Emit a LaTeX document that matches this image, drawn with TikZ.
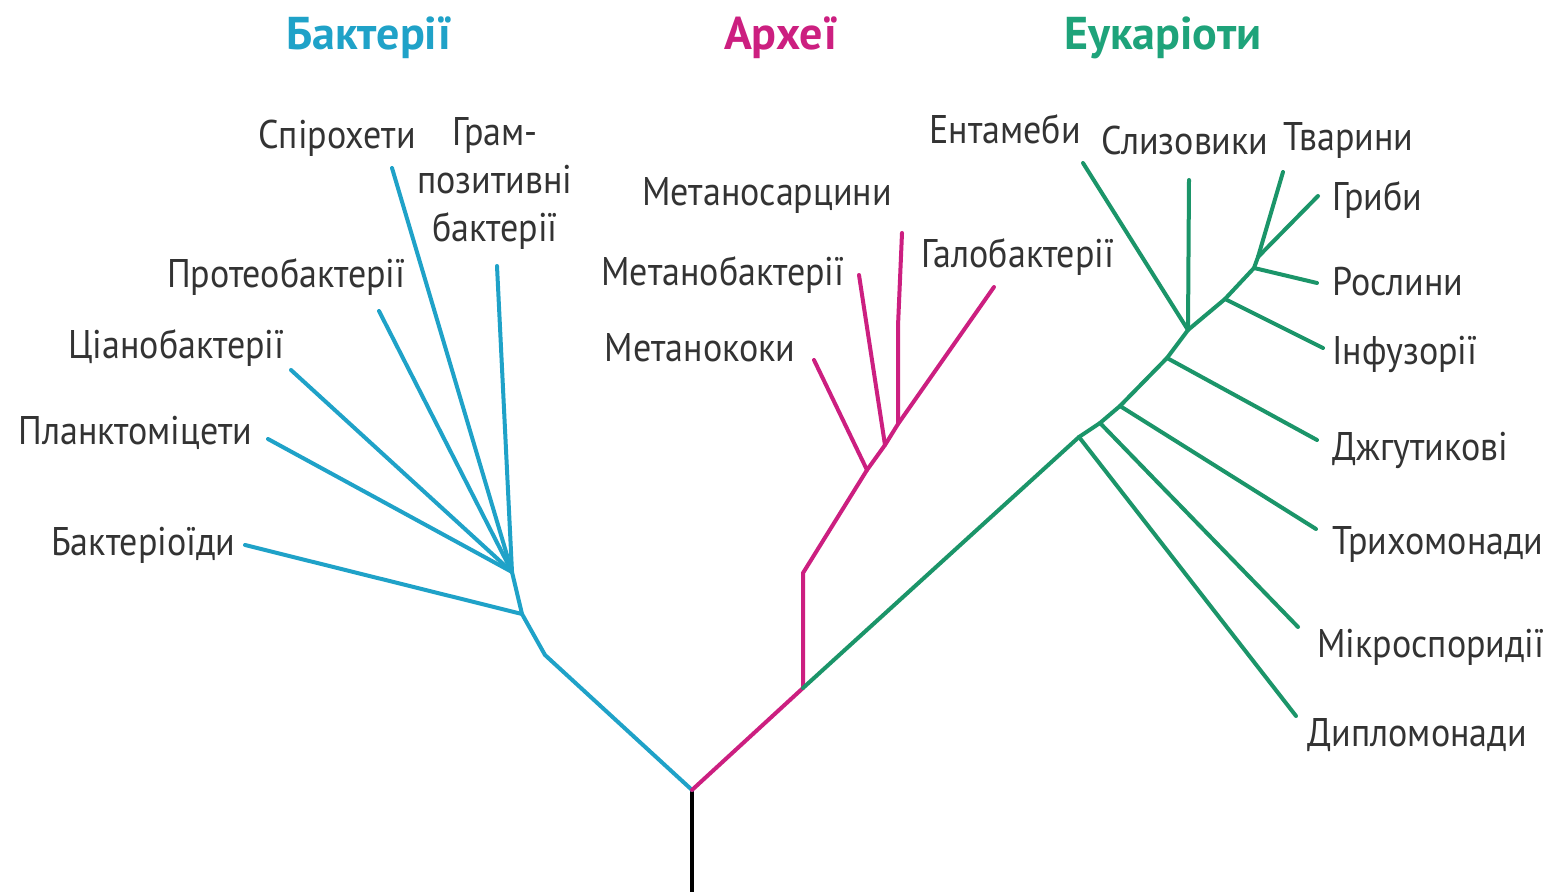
\documentclass[tikz,border=0pt]{standalone}
\usepackage{fontspec}
\setmainfont[FakeStretch=0.9]{PT Sans}
\newfontfamily\ttlfont{PT Sans}
\definecolor{bact}{HTML}{1FA2C8}
\definecolor{arch}{HTML}{CC1F80}
\definecolor{euk}{HTML}{1B9569}
\definecolor{eukt}{HTML}{1EA37A}
\definecolor{txt}{HTML}{333333}
\begin{document}
\begin{tikzpicture}[x=0.5pt,y=-0.5pt,
  lbl/.style={font=\fontsize{20}{24}\selectfont, text=txt, inner sep=0pt},
  ttl/.style={font=\ttlfont\fontsize{23}{26}\selectfont\bfseries, inner sep=0pt},
  br/.style={line width=2pt, line cap=round, line join=round}]
\useasboundingbox[fill=white] (0,0) rectangle (1564,892);

% ---------- junctions ----------
\coordinate (root) at (692,892);
\coordinate (R) at (692,790);
\coordinate (B0) at (545,655);
\coordinate (B1) at (522,614);
\coordinate (B2) at (512,572);
\coordinate (A0) at (803,688);
\coordinate (A1) at (803,573);
\coordinate (A2) at (867,470);
\coordinate (A3) at (885,445);
\coordinate (A4) at (898,424);
\coordinate (E1) at (1079,437);
\coordinate (E2) at (1100,423);
\coordinate (E3) at (1120,406);
\coordinate (E4) at (1167,358);
\coordinate (E5) at (1188,330);
\coordinate (E6) at (1225,299);
\coordinate (E7) at (1254,268);
\coordinate (E8) at (1258,257);

% ---------- branch ends ----------
\coordinate (bSpiro) at (392,168);
\coordinate (bGram) at (497,266);
\coordinate (bProt) at (379,311);
\coordinate (bCyan) at (291,370);
\coordinate (bPlan) at (268,439);
\coordinate (bBacd) at (245,545);
\coordinate (aKoki) at (814,360);
\coordinate (aBact) at (859,275);
\coordinate (aSarc) at (902,233);
\coordinate (aSarcM) at (898,326);
\coordinate (aHalo) at (994,287);
\coordinate (eDipl) at (1296,716);
\coordinate (eMicr) at (1298,627);
\coordinate (eTric) at (1316,529);
\coordinate (eFlag) at (1317,440);
\coordinate (eEnt) at (1083,163);
\coordinate (eSliz) at (1189,180);
\coordinate (eInf) at (1323,348);
\coordinate (eRosl) at (1317,283);
\coordinate (eTvar) at (1283,172);
\coordinate (eGrib) at (1318,196);

% ---------- root ----------
\draw[br, black, line cap=butt] (root) -- (R);

% ---------- bacteria ----------
\draw[br, bact] (R) -- (B0) -- (B1) -- (B2);
\draw[br, bact] (bBacd) -- (B1);
\foreach \e in {bSpiro,bGram,bProt,bCyan,bPlan}
  \draw[br, bact] (\e) -- (B2);

% ---------- archaea ----------
\draw[br, arch] (R) -- (A0) -- (A1) -- (A2) -- (A3) -- (A4) -- (aHalo);
\draw[br, arch] (aKoki) -- (A2);
\draw[br, arch] (aBact) -- (A3);
\draw[br, arch] (aSarc) -- (aSarcM) -- (A4);

% ---------- eukaryotes ----------
\draw[br, euk] (A0) -- (E1) -- (E2) -- (E3) -- (E4) -- (E5) -- (E6) -- (E7) -- (E8);
\draw[br, euk] (eDipl) -- (E1);
\draw[br, euk] (eMicr) -- (E2);
\draw[br, euk] (eTric) -- (E3);
\draw[br, euk] (eFlag) -- (E4);
\draw[br, euk] (eEnt) -- (E5);
\draw[br, euk] (eSliz) -- (E5);
\draw[br, euk] (eInf) -- (E6);
\draw[br, euk] (eRosl) -- (E7);
\draw[br, euk] (eTvar) -- (E8);
\draw[br, euk] (eGrib) -- (E8);

% ---------- titles ----------
\node[ttl, text=bact, anchor=base] (tBact) at (369,50) {Бактерії};
\node[ttl, text=arch, anchor=base] (tArch) at (781,50) {Археї};
\node[ttl, text=eukt, anchor=base] (tEuk) at (1163,50) {Еукаріоти};

% ---------- bacteria labels ----------
\node[lbl, anchor=base] (lSpiro) at (337,149) {Спірохети};
\node[lbl, align=center, anchor=center] (lGram) at (495,184) {Грам-\\позитивні\\бактерії};
\node[lbl, anchor=base east] (lProt) at (406,288) {Протеобактерії};
\node[lbl, anchor=base east] (lCyan) at (285,359) {Ціанобактерії};
\node[lbl, anchor=base east] (lPlan) at (253,445) {Планктоміцети};
\node[lbl, anchor=base east] (lBacd) at (236,556) {Бактеріоїди};

% ---------- archaea labels ----------
\node[lbl, anchor=base] (lSarc) at (767,206) {Метаносарцини};
\node[lbl, anchor=base] (lMBac) at (723,286) {Метанобактерії};
\node[lbl, anchor=base] (lKoki) at (700,362) {Метанококи};
\node[lbl, anchor=base] (lHalo) at (1018,268) {Галобактерії};

% ---------- eukaryote labels ----------
\node[lbl, anchor=base] (lEnt) at (1005,144) {Ентамеби};
\node[lbl, anchor=base] (lSliz) at (1185,155) {Слизовики};
\node[lbl, anchor=base west] (lTvar) at (1283,151) {Тварини};
\node[lbl, anchor=base west] (lGrib) at (1332,211) {Гриби};
\node[lbl, anchor=base west] (lRosl) at (1332,296) {Рослини};
\node[lbl, anchor=base west] (lInf) at (1332,365) {Інфузорії};
\node[lbl, anchor=base west] (lFlag) at (1332,461) {Джгутикові};
\node[lbl, anchor=base west] (lTric) at (1332,555) {Трихомонади};
\node[lbl, anchor=base west] (lMicr) at (1317,658) {Мікроспоридії};
\node[lbl, anchor=base west] (lDipl) at (1307,747) {Дипломонади};
\end{tikzpicture}
\end{document}
